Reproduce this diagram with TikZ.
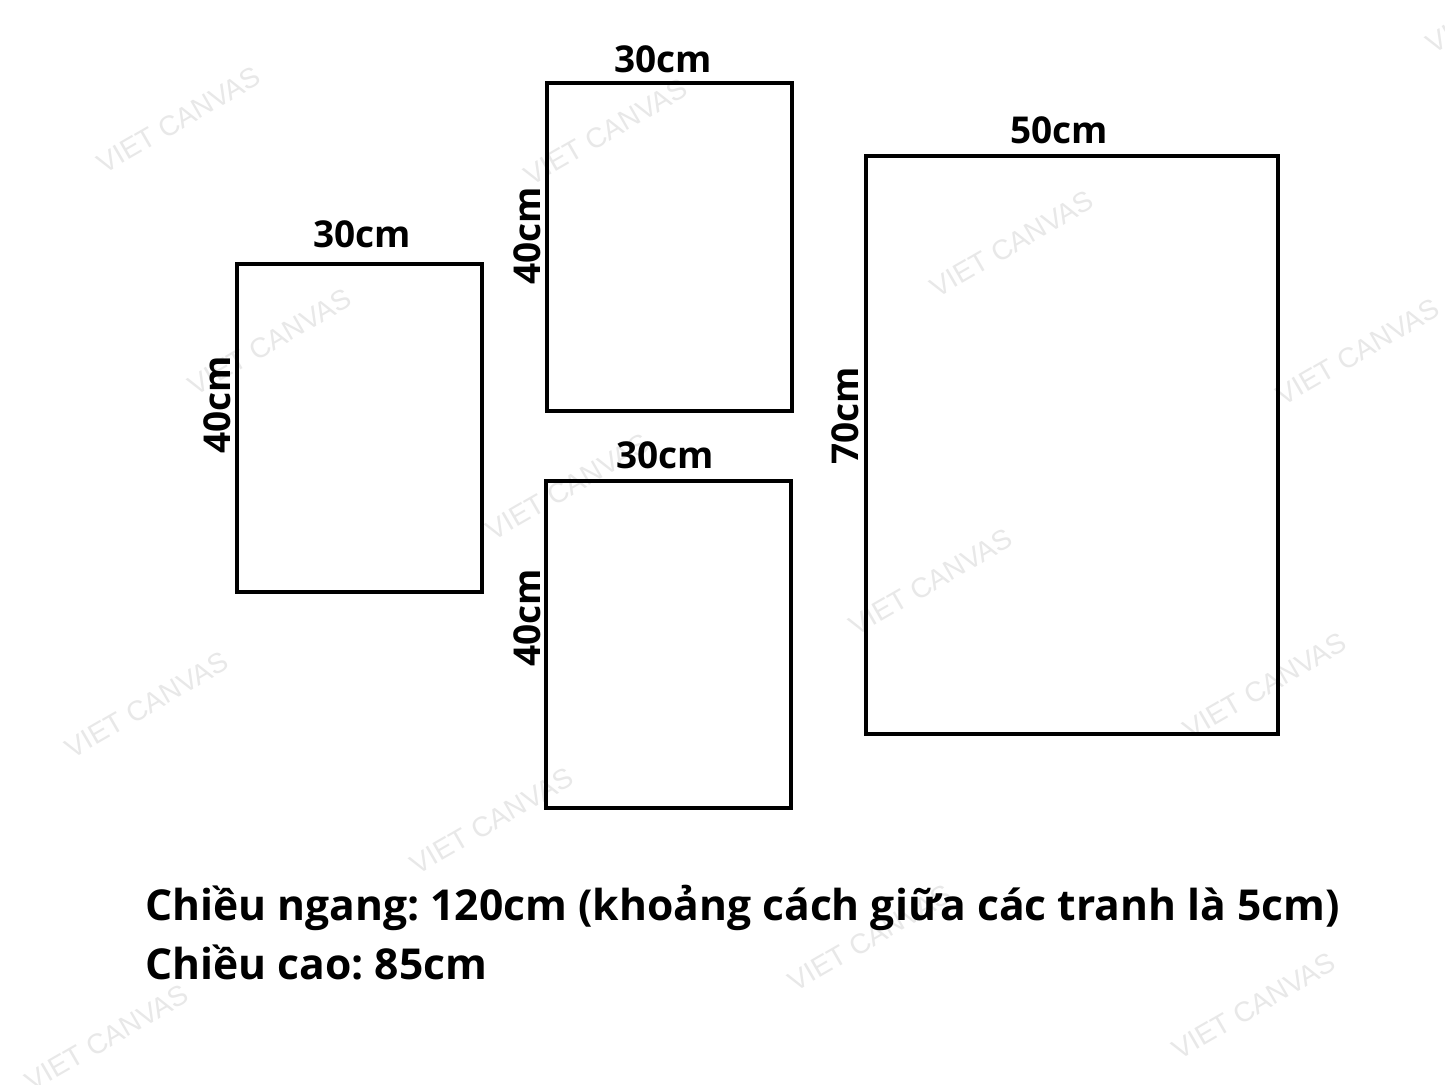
\documentclass[tikz,border=0pt]{standalone}
\usepackage{fontspec}
\setmainfont{Open Sans}
\newfontfamily\marcaagua{Liberation Sans}
\frenchspacing

\tikzset{
    marco/.style={line width=4.5pt},
    medida/.style={font=\bfseries\fontsize{37}{40}\selectfont, inner sep=0pt, anchor=base},
    medidav/.style={medida, rotate=90},
    leyenda/.style={font=\bfseries\fontsize{42.6}{48}\selectfont, inner sep=0pt, anchor=base west},
    marca/.style={font=\marcaagua\fontsize{28}{28}\selectfont, text=black!9, rotate=30, inner sep=0pt}
}

\begin{document}
\begin{tikzpicture}[x=1pt, y=-1pt]
    \useasboundingbox (0,0) rectangle (1445,1084);
    \clip (0,0) rectangle (1445,1084);
    \fill[white] (0,0) rectangle (1445,1084);

    % Marca de agua
    \node[marca] (m1) at (179,120) {VIET CANVAS};
    \node[marca] (m2) at (606,132) {VIET CANVAS};
    \node[marca] (m3) at (1012,244) {VIET CANVAS};
    \node[marca] (m4) at (270,342) {VIET CANVAS};
    \node[marca] (m5) at (1358,352) {VIET CANVAS};
    \node[marca] (m6) at (568,487) {VIET CANVAS};
    \node[marca] (m7) at (931,582) {VIET CANVAS};
    \node[marca] (m8) at (147,705) {VIET CANVAS};
    \node[marca] (m9) at (1265,686) {VIET CANVAS};
    \node[marca] (m10) at (492,821) {VIET CANVAS};
    \node[marca] (m11) at (870,938) {VIET CANVAS};
    \node[marca] (m12) at (107,1038) {VIET CANVAS};
    \node[marca] (m13) at (1254,1006) {VIET CANVAS};
    \node[marca] (m14) at (1508,0) {VIET CANVAS};

    % Tranhs
    \draw[marco] (237,264) rectangle (482,592);
    \draw[marco] (547,83) rectangle (792,411);
    \draw[marco] (546,481) rectangle (791,808);
    \draw[marco] (866,156) rectangle (1278,734);

    % Medidas
    \node[medida] (a1) at (362,247) {30cm};
    \node[medidav] (h1) at (230,405) {40cm};
    \node[medida] (a2) at (663,72) {30cm};
    \node[medidav] (h2) at (540,236) {40cm};
    \node[medida] (a3) at (665,468) {30cm};
    \node[medidav] (h3) at (540,618) {40cm};
    \node[medida] (a4) at (1059,143) {50cm};
    \node[medidav] (h4) at (858,416) {70cm};

    % Leyenda
    \node[leyenda] (l1) at (145,920) {Chiều ngang: 120cm (khoảng cách giữa các tranh là 5cm)};
    \node[leyenda] (l2) at (145,979) {Chiều cao: 85cm};
\end{tikzpicture}
\end{document}
